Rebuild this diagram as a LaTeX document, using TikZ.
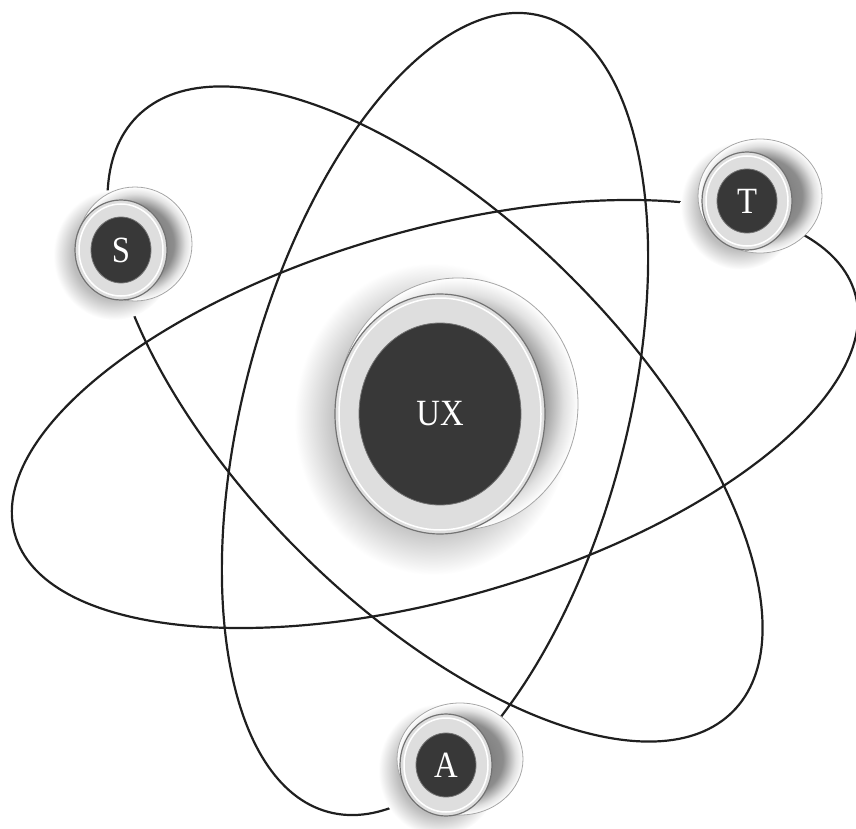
\documentclass[tikz,border=0pt]{standalone}
\usepackage{fontspec}
\setmainfont{Liberation Serif}
\pgfdeclareradialshading{buttonshadow}{\pgfpoint{0bp}{0bp}}{color(0bp)=(black!32); color(17bp)=(black!26); color(25bp)=(white); color(50bp)=(white)}
\pgfdeclareradialshading{buttonside}{\pgfpoint{0bp}{0bp}}{color(0bp)=(black!60); color(17bp)=(black!45); color(22bp)=(black!12); color(25bp)=(white); color(50bp)=(white)}

\begin{document}
\begin{tikzpicture}[x=1pt, y=-1pt,
    orbit_style/.style={line width=2.2pt, black!88},
    shadow_style/.style={shading=buttonshadow},
    side_style/.style={shading=buttonside, draw=black!35, line width=0.8pt},
    ring_style/.style={fill=black!13, draw=black!55, line width=1.2pt},
    core_style/.style={fill=black!78, draw=black!55, line width=0.8pt},
    label_style/.style={text=white, font=\fontsize{37}{40}\selectfont, xscale=0.885, transform shape}
]
    \useasboundingbox (0,0) rectangle (856,829);

    % Orbits
    \coordinate (center) at (435,414);
    \draw[orbit_style, rotate around={16:(center)}] (center) ellipse [x radius=437, y radius=184];
    \draw[orbit_style, rotate around={-45:(center)}] (center) ellipse [x radius=421, y radius=193];
    \draw[orbit_style, rotate around={75:(center)}] (center) ellipse [x radius=412, y radius=191];

    % Buttons: name/centre/ring radii/core radii/side offset/side radii/label
    \foreach \n/\cx/\cy/\rx/\ry/\kx/\ky/\ox/\oy/\bx/\by/\lbl in {
        ux/440/414/105/120/81/91/18/-10/120/126/UX,
        s/121/250/46/50/30/33/14/-6/57/57/S,
        t/747/201/45/49/30/32/13/-5/62/57/T,
        a/446/765/46/51/30/32/14/-6/63/56/A}
    {
        % Soft shadow
        \shade[shadow_style] (\cx-7,\cy+5) ellipse [x radius=\rx*1.32, y radius=\ry*1.3];
        % Raised side
        \shade[side_style] (\cx+\ox,\cy+\oy) ellipse [x radius=\bx, y radius=\by];
        % Ring and core
        \draw[ring_style] (\cx,\cy) ellipse [x radius=\rx, y radius=\ry];
        \draw[white, line width=1.5pt] (\cx,\cy) ellipse [x radius=\rx-4, y radius=\ry-4];
        \draw[core_style] (\cx,\cy) ellipse [x radius=\kx, y radius=\ky];
        \node[label_style] (\n) at (\cx,\cy) {\lbl};
    }
\end{tikzpicture}
\end{document}
